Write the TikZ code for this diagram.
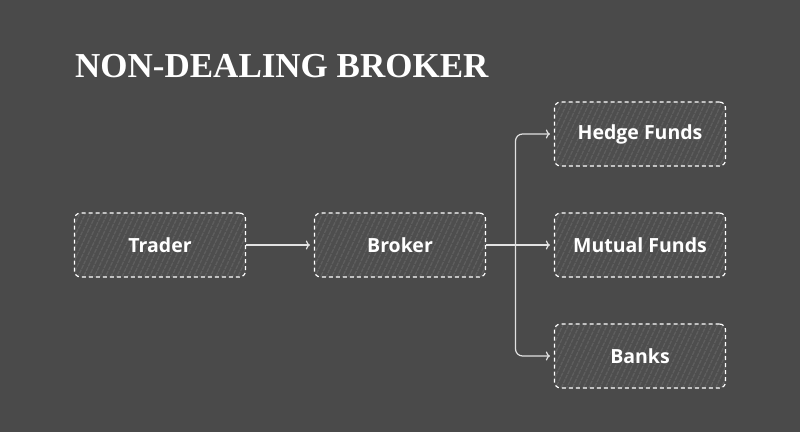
\documentclass[tikz,border=0pt]{standalone}
\usepackage{fontspec}
\setmainfont{Open Sans}
\newfontfamily\titlefont{Liberation Serif}
\usetikzlibrary{patterns.meta,arrows.meta}
\definecolor{bg}{HTML}{4A4A4A}
\definecolor{boxfill}{HTML}{4E4E4E}
\definecolor{hatch}{HTML}{5E5E5E}
\definecolor{linkc}{HTML}{E2E2E2}
\begin{document}
\begin{tikzpicture}[x=1pt,y=-1pt,
  box/.style={preaction={fill=boxfill},
    pattern={Lines[angle=65,distance=5pt,line width=1.3pt]}, pattern color=hatch,
    draw=white, dash pattern=on 4pt off 3pt, line width=1.2pt, rounded corners=6pt,
    minimum width=171pt, minimum height=64pt, inner sep=0pt,
    font=\fontsize{19.5}{22}\selectfont\bfseries, text=white},
  link/.style={draw=linkc, line width=1.2pt, -{To[length=4pt,width=9pt]}, shorten >=4pt},
  title/.style={font=\titlefont\fontsize{35}{40}\selectfont\bfseries, text=white, inner sep=0pt, anchor=base west}]
\fill[bg] (0,0) rectangle (800,432);
\useasboundingbox (0,0) rectangle (800,432);
\node[title] (ttl) at (75,77) {NON-DEALING BROKER};
\node[box] (trader) at (160,245) {Trader};
\node[box] (broker) at (400,245) {Broker};
\node[box] (hedge) at (640,134) {Hedge Funds};
\node[box] (mutual) at (640,245) {Mutual Funds};
\node[box] (banks) at (640,356) {Banks};
\coordinate (j) at (515.5,245);
\draw[link] (trader) -- (broker);
\draw[link] (broker) -- (mutual);
\draw[link, rounded corners=7pt] (j) |- (hedge.west);
\draw[link, rounded corners=7pt] (j) |- (banks.west);
\end{tikzpicture}
\end{document}
